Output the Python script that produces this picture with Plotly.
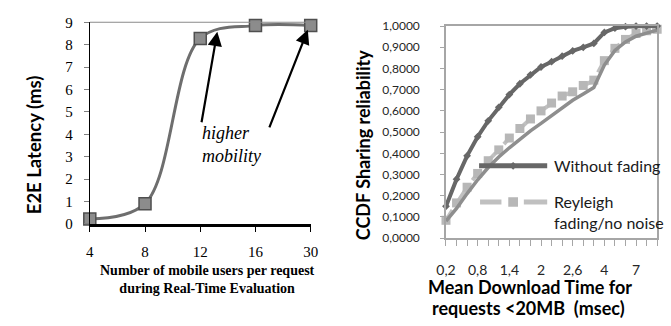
import plotly.graph_objects as go

# ---------------- data ----------------
users_cat = ["4", "8", "12", "16", "30"]
latency_ms = [0.22, 0.9, 8.28, 8.85, 8.85]

dl_time_cat = ["0,2", "0,4", "0,6", "0,8", "1", "1,2", "1,4", "1,6", "1,8", "2",
               "2,2", "2,4", "2,6", "2,8", "3", "4", "5", "6", "7", "8", "9"]
dl_tick_labels = ["0,2", "", "", "0,8", "", "", "1,4", "", "", "2",
                  "", "", "2,6", "", "", "4", "", "", "7", "", ""]
without_fading = [0.15, 0.278, 0.388, 0.478, 0.553, 0.617, 0.677, 0.728, 0.77, 0.807,
                  0.832, 0.858, 0.883, 0.9, 0.918, 0.97, 0.99, 0.997, 1.0, 1.0, 1.0]
reyleigh = [0.084, 0.166, 0.24, 0.305, 0.365, 0.416, 0.472, 0.517, 0.562, 0.6,
            0.637, 0.67, 0.69, 0.72, 0.745, 0.837, 0.895, 0.937, 0.965, 0.978, 0.985]
reyleigh_fit = [0.08, 0.14, 0.21, 0.275, 0.333, 0.383, 0.426, 0.467, 0.506, 0.541,
                0.578, 0.615, 0.65, 0.68, 0.71, 0.816, 0.885, 0.925, 0.952, 0.967, 0.981]

W, H = 671, 326


def px(x):
    return x / W


def py(y):
    return 1 - y / H


SERIF = "Liberation Serif, Times New Roman, serif"
SANS = "Lato, Open Sans, sans-serif"

fig = go.Figure()

# ---------------- left chart ----------------
fig.add_trace(go.Scatter(
    x=users_cat, y=latency_ms, xaxis="x", yaxis="y",
    mode="lines+markers", line=dict(color="#6e6e6e", width=3, shape="spline", smoothing=1.0),
    marker=dict(symbol="square", size=12, color="#8c8c8c", line=dict(color="#4f4f4f", width=1.5)),
    cliponaxis=False, showlegend=False))

# ---------------- right chart ----------------
fig.add_trace(go.Scatter(
    x=dl_time_cat, y=reyleigh, xaxis="x2", yaxis="y2",
    mode="lines+markers", line=dict(color="#c0c0c0", width=4, dash="dash"),
    marker=dict(symbol="square", size=9, color="#b7b7b7"),
    cliponaxis=False, showlegend=False))
fig.add_trace(go.Scatter(
    x=dl_time_cat, y=reyleigh_fit, xaxis="x2", yaxis="y2",
    mode="lines", line=dict(color="#8e8e8e", width=3.5),
    cliponaxis=False, showlegend=False))
fig.add_trace(go.Scatter(
    x=dl_time_cat, y=without_fading, xaxis="x2", yaxis="y2",
    mode="lines+markers", line=dict(color="#676767", width=4),
    marker=dict(symbol="diamond", size=6, color="#676767"),
    cliponaxis=False, showlegend=False))

shapes = []
annotations = []

# top border of left plot
shapes.append(dict(type="line", xref="paper", yref="paper", x0=px(82), x1=px(309),
                   y0=py(15), y1=py(15), line=dict(color="#8a8a8a", width=1)))

# custom legend for right chart
shapes.append(dict(type="line", xref="paper", yref="paper", x0=px(482), x1=px(552),
                   y0=py(166), y1=py(166), line=dict(color="#676767", width=5)))
shapes.append(dict(type="path", xref="paper", yref="paper",
                   path=f"M {px(517)} {py(162)} L {px(521)} {py(166)} L {px(517)} {py(170)} L {px(513)} {py(166)} Z",
                   fillcolor="#676767", line=dict(width=0)))
shapes.append(dict(type="line", xref="paper", yref="paper", x0=px(483), x1=px(505),
                   y0=py(204), y1=py(204), line=dict(color="#c0c0c0", width=5)))
shapes.append(dict(type="line", xref="paper", yref="paper", x0=px(528), x1=px(552),
                   y0=py(204), y1=py(204), line=dict(color="#c0c0c0", width=5)))
shapes.append(dict(type="rect", xref="paper", yref="paper", x0=px(512), x1=px(522),
                   y0=py(209), y1=py(199), fillcolor="#b7b7b7", line=dict(width=0)))

annotations.append(dict(xref="paper", yref="paper", x=px(557), y=py(166), xanchor="left",
                        yanchor="middle", text="Without fading", showarrow=False,
                        font=dict(family=SANS, size=16, color="#1a1a1a")))
annotations.append(dict(xref="paper", yref="paper", x=px(557), y=py(215), xanchor="left",
                        yanchor="middle", text="Reyleigh<br>fading/no noise", showarrow=False,
                        align="left", font=dict(family=SANS, size=16, color="#1a1a1a")))

# axis titles
annotations.append(dict(xref="paper", yref="paper", x=px(25), y=py(144), text="<b>E2E Latency (ms)</b>",
                        textangle=-90, showarrow=False, xanchor="center", yanchor="middle",
                        font=dict(family=SANS, size=18.5, color="#000000")))
annotations.append(dict(xref="paper", yref="paper", x=px(203), y=py(285),
                        text="<b>Number of mobile users per request<br>during Real-Time Evaluation</b>",
                        showarrow=False, xanchor="center", yanchor="middle",
                        font=dict(family=SERIF, size=14, color="#000000")))
annotations.append(dict(xref="paper", yref="paper", x=px(363), y=py(144), text="<b>CCDF Sharing reliability</b>",
                        textangle=-90, showarrow=False, xanchor="center", yanchor="middle",
                        font=dict(family=SANS, size=18, color="#000000")))
annotations.append(dict(xref="paper", yref="paper", x=px(534), y=py(293),
                        text="<b>Mean Download Time for</b>",
                        showarrow=False, xanchor="center", yanchor="middle",
                        font=dict(family=SANS, size=18, color="#000000")))
annotations.append(dict(xref="paper", yref="paper", x=px(533), y=py(315),
                        text="<b>requests &lt;20MB  (msec)</b>",
                        showarrow=False, xanchor="center", yanchor="middle",
                        font=dict(family=SANS, size=18, color="#000000")))

# "higher mobility" note with arrows
annotations.append(dict(xref="paper", yref="paper", x=px(195), y=py(144), xanchor="left", yanchor="middle",
                        text="<i>higher<br>mobility</i>", showarrow=False, align="left",
                        font=dict(family=SERIF, size=18, color="#000000")))
annotations.append(dict(xref="paper", yref="paper", x=px(213), y=py(25), ax=-16, ay=92,
                        showarrow=True, arrowhead=2, arrowsize=1.3, arrowwidth=2.2, arrowcolor="#000000",
                        text=""))
annotations.append(dict(xref="paper", yref="paper", x=px(306), y=py(23), ax=-39, ay=99,
                        showarrow=True, arrowhead=2, arrowsize=1.3, arrowwidth=2.2, arrowcolor="#000000",
                        text=""))

fig.update_layout(
    width=W, height=H, margin=dict(l=0, r=0, t=0, b=0),
    paper_bgcolor="white", plot_bgcolor="white",
    separators=",.",
    showlegend=False,
    xaxis=dict(domain=[px(82), px(309)], anchor="y", type="category", range=[0, 4],
               showgrid=False, zeroline=False, showline=True, linecolor="#000000", linewidth=2.5,
               ticks="outside", ticklen=5, tickcolor="#000000", tickwidth=1,
               ticklabelstandoff=7,
               tickfont=dict(family=SERIF, size=15, color="#000000")),
    yaxis=dict(domain=[py(227), py(15)], anchor="x", range=[0, 9], dtick=1,
               showgrid=False, zeroline=False, showline=True, linecolor="#000000", linewidth=1,
               ticks="outside", ticklen=5, tickcolor="#7f7f7f", ticklabelstandoff=8,
               tickfont=dict(family=SERIF, size=15, color="#000000")),
    xaxis2=dict(domain=[px(448), px(665)], anchor="y2", type="category", range=[0, 20],
                tickmode="array", tickvals=dl_time_cat, ticktext=dl_tick_labels,
                showgrid=False, zeroline=False, showline=True, linecolor="#a6a6a6", linewidth=1.5,
                mirror=True, ticks="outside", ticklen=6, tickcolor="#a6a6a6", ticklabelstandoff=12,
                tickfont=dict(family=SANS, size=14, color="#262626")),
    yaxis2=dict(domain=[py(242), py(19)], anchor="x2", range=[0, 1], dtick=0.1, tickformat=".4f",
                showgrid=False, zeroline=False, showline=True, linecolor="#a6a6a6", linewidth=1.5,
                mirror=True, ticks="outside", ticklen=4, tickcolor="#a6a6a6", ticklabelstandoff=18,
                tickfont=dict(family=SANS, size=12, color="#262626")),
    shapes=shapes, annotations=annotations,
)

fig.write_html("out.html", config={"displayModeBar": False},
               post_script="document.body.style.margin='0';document.body.style.padding='0';")
